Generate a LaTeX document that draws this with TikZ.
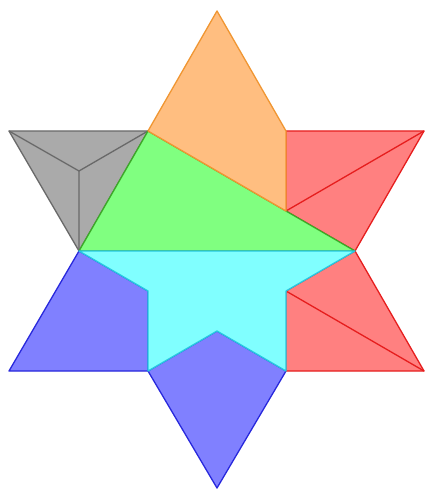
\documentclass[tikz,border=0pt]{standalone}
\definecolor{cfill}{RGB}{128,255,255}
\definecolor{cline}{RGB}{40,200,225}
\definecolor{gfill}{RGB}{128,255,128}
\definecolor{gline}{RGB}{60,170,40}
\definecolor{bfill}{RGB}{128,128,255}
\definecolor{bline}{RGB}{40,40,220}
\definecolor{rfill}{RGB}{255,128,128}
\definecolor{rline}{RGB}{230,30,30}
\definecolor{ofill}{RGB}{255,190,128}
\definecolor{oline}{RGB}{240,150,50}
\definecolor{kfill}{RGB}{170,170,170}
\definecolor{kline}{RGB}{105,105,105}
\begin{document}
\begin{tikzpicture}[x=1pt,y=-1pt,line join=round,line width=1.3pt]
\useasboundingbox (0,0) rectangle (426,489);
% key points
\coordinate (T) at (217,11);
\coordinate (B) at (217,488);
\coordinate (UL) at (9,131);
\coordinate (UR) at (424,131);
\coordinate (LL) at (9,371);
\coordinate (LR) at (424,371);
\coordinate (H1) at (148,131);
\coordinate (H2) at (286,131);
\coordinate (H3) at (355,251);
\coordinate (H4) at (286,371);
\coordinate (H5) at (148,371);
\coordinate (H6) at (79,251);
\coordinate (GC) at (79,171);
\coordinate (P) at (286,211);
\coordinate (Q) at (286,291);
\coordinate (R) at (148,291);
\coordinate (S) at (217,331);
% gray
\filldraw[draw=kline,fill=kfill] (UL) -- (H1) -- (H6) -- cycle;
\draw[kline] (UL) -- (GC) (H1) -- (GC) (H6) -- (GC);
% red upper
\filldraw[draw=rline,fill=rfill] (H2) -- (UR) -- (H3) -- (P) -- cycle;
\draw[rline] (P) -- (UR);
% green
\filldraw[draw=gline,fill=gfill] (H1) -- (H3) -- (H6) -- cycle;
% orange
\filldraw[draw=oline,fill=ofill] (T) -- (H1) -- (P) -- (H2) -- cycle;
% blue left
\filldraw[draw=bline,fill=bfill] (H6) -- (R) -- (H5) -- (LL) -- cycle;
% blue bottom
\filldraw[draw=bline,fill=bfill] (H5) -- (S) -- (H4) -- (B) -- cycle;
% red lower
\filldraw[draw=rline,fill=rfill] (H3) -- (LR) -- (H4) -- (Q) -- cycle;
\draw[rline] (Q) -- (LR);
% cyan
\filldraw[draw=cline,fill=cfill] (H6) -- (H3) -- (Q) -- (H4) -- (S) -- (H5) -- (R) -- cycle;
\end{tikzpicture}
\end{document}
